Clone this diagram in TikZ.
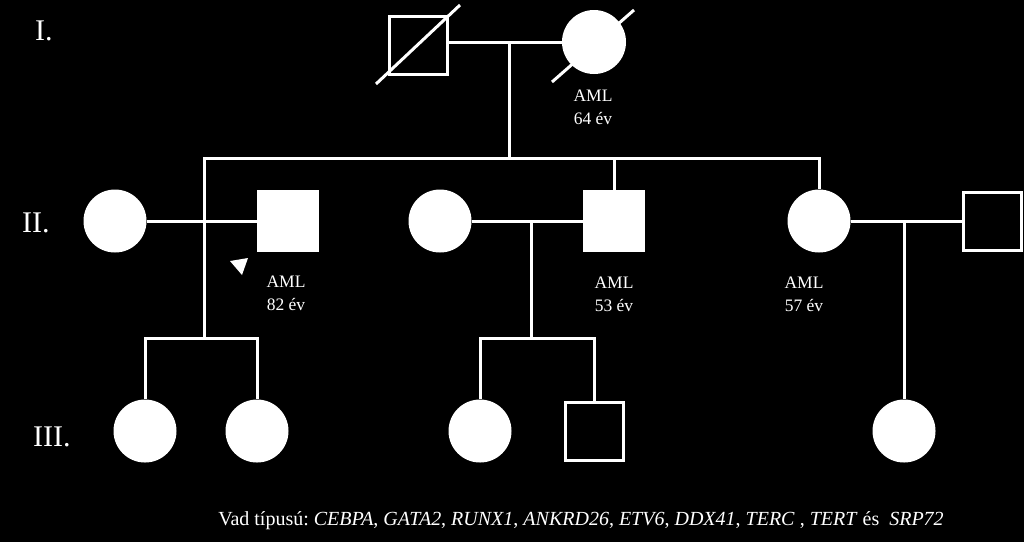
\documentclass[tikz,border=0pt]{standalone}
\usepackage{fontspec}
\setmainfont{Liberation Serif}
\frenchspacing
\begin{document}
\begin{tikzpicture}[x=1pt,y=-1pt,
  fcirc/.style={circle, fill=white, minimum size=63pt, inner sep=0pt},
  fsq/.style={rectangle, fill=white, minimum size=62pt, inner sep=0pt},
  osq/.style={rectangle, draw=white, line width=3pt, minimum size=58pt, inner sep=0pt},
  link/.style={draw=white, line width=3pt},
  lbl/.style={font=\fontsize{17.5}{23}\selectfont, align=center, text=white, inner sep=0pt, anchor=north},
  gen/.style={font=\fontsize{30}{30}\selectfont, text=white, inner sep=0pt, anchor=base west}]
\fill[black] (0,0) rectangle (1024,542);
\useasboundingbox (0,0) rectangle (1024,542);

% generation labels
\node[gen] (gI) at (35,40) {I.};
\node[gen] (gII) at (22,232) {II.};
\node[gen] (gIII) at (33,446) {III.};

% generation I
\node[osq] (g1m) at (418,45) {};
\node[fcirc, minimum size=64pt] (g1f) at (594,42) {};
\draw[link] (g1m.center) ++(-42,39) -- ++(84,-79);
\draw[link] (g1f.center) ++(-42,40) -- ++(82,-72);
\draw[link] (g1m.east |- g1f) -- (g1f);
\coordinate (d1) at (509,42);
\coordinate (s1) at (509,158);
\coordinate (s1l) at (204,158);
\coordinate (s1r) at (819,158);
\draw[link] (d1) -- (s1);
\draw[link, line cap=rect] (s1l) -- (s1r);
\node[lbl] (l1) at (593,90) {AML\\64 év};

% generation II
\node[fcirc] (f1) at (115,221) {};
\node[fsq] (m1) at (288,221) {};
\node[fcirc] (f2) at (440,221) {};
\node[fsq] (m2) at (614,221) {};
\node[fcirc] (f3) at (819,221) {};
\node[osq] (m3) at (992,221) {};
\draw[link] (f1) -- (m1);
\draw[link] (f2) -- (m2);
\draw[link] (f3) -- (m3);
\draw[link] (m2 |- s1) -- (m2.north);
\draw[link] (s1r) -- (f3.north);
\fill[white] (230,261) -- (248,258) -- (242,275) -- cycle;
\node[lbl] (l2) at (286,276) {AML\\82 év};
\node[lbl] (l3) at (614,277) {AML\\53 év};
\node[lbl] (l4) at (804,277) {AML\\57 év};

% generation III
\node[fcirc] (c1) at (145,431) {};
\node[fcirc] (c2) at (257,431) {};
\node[fcirc] (c3) at (480,431) {};
\node[osq] (c4) at (594,431) {};
\node[fcirc] (c5) at (904,431) {};
\coordinate (sib2) at (204,338);
\coordinate (d2) at (531,221);
\coordinate (sib3) at (531,338);
\draw[link] (s1l) -- (sib2);
\draw[link] (c1.north) -- (c1 |- sib2) -- (c2 |- sib2) -- (c2.north);
\draw[link] (d2) -- (sib3);
\draw[link] (c3.north) -- (c3 |- sib3) -- (c4 |- sib3) -- (c4.north);
\draw[link] (c5 |- f3) -- (c5.north);

% footnote
\node[font=\fontsize{20}{21}\selectfont, text=white, inner sep=0pt, anchor=base] (foot) at (581,525)
  {Vad típusú: \textit{CEBPA}, \textit{GATA2}, \textit{RUNX1}, \textit{ANKRD26}, \textit{ETV6}, \textit{DDX41}, \textit{TERC} , \textit{TERT} és\hspace{0.5em}\textit{SRP72}};
\end{tikzpicture}
\end{document}
